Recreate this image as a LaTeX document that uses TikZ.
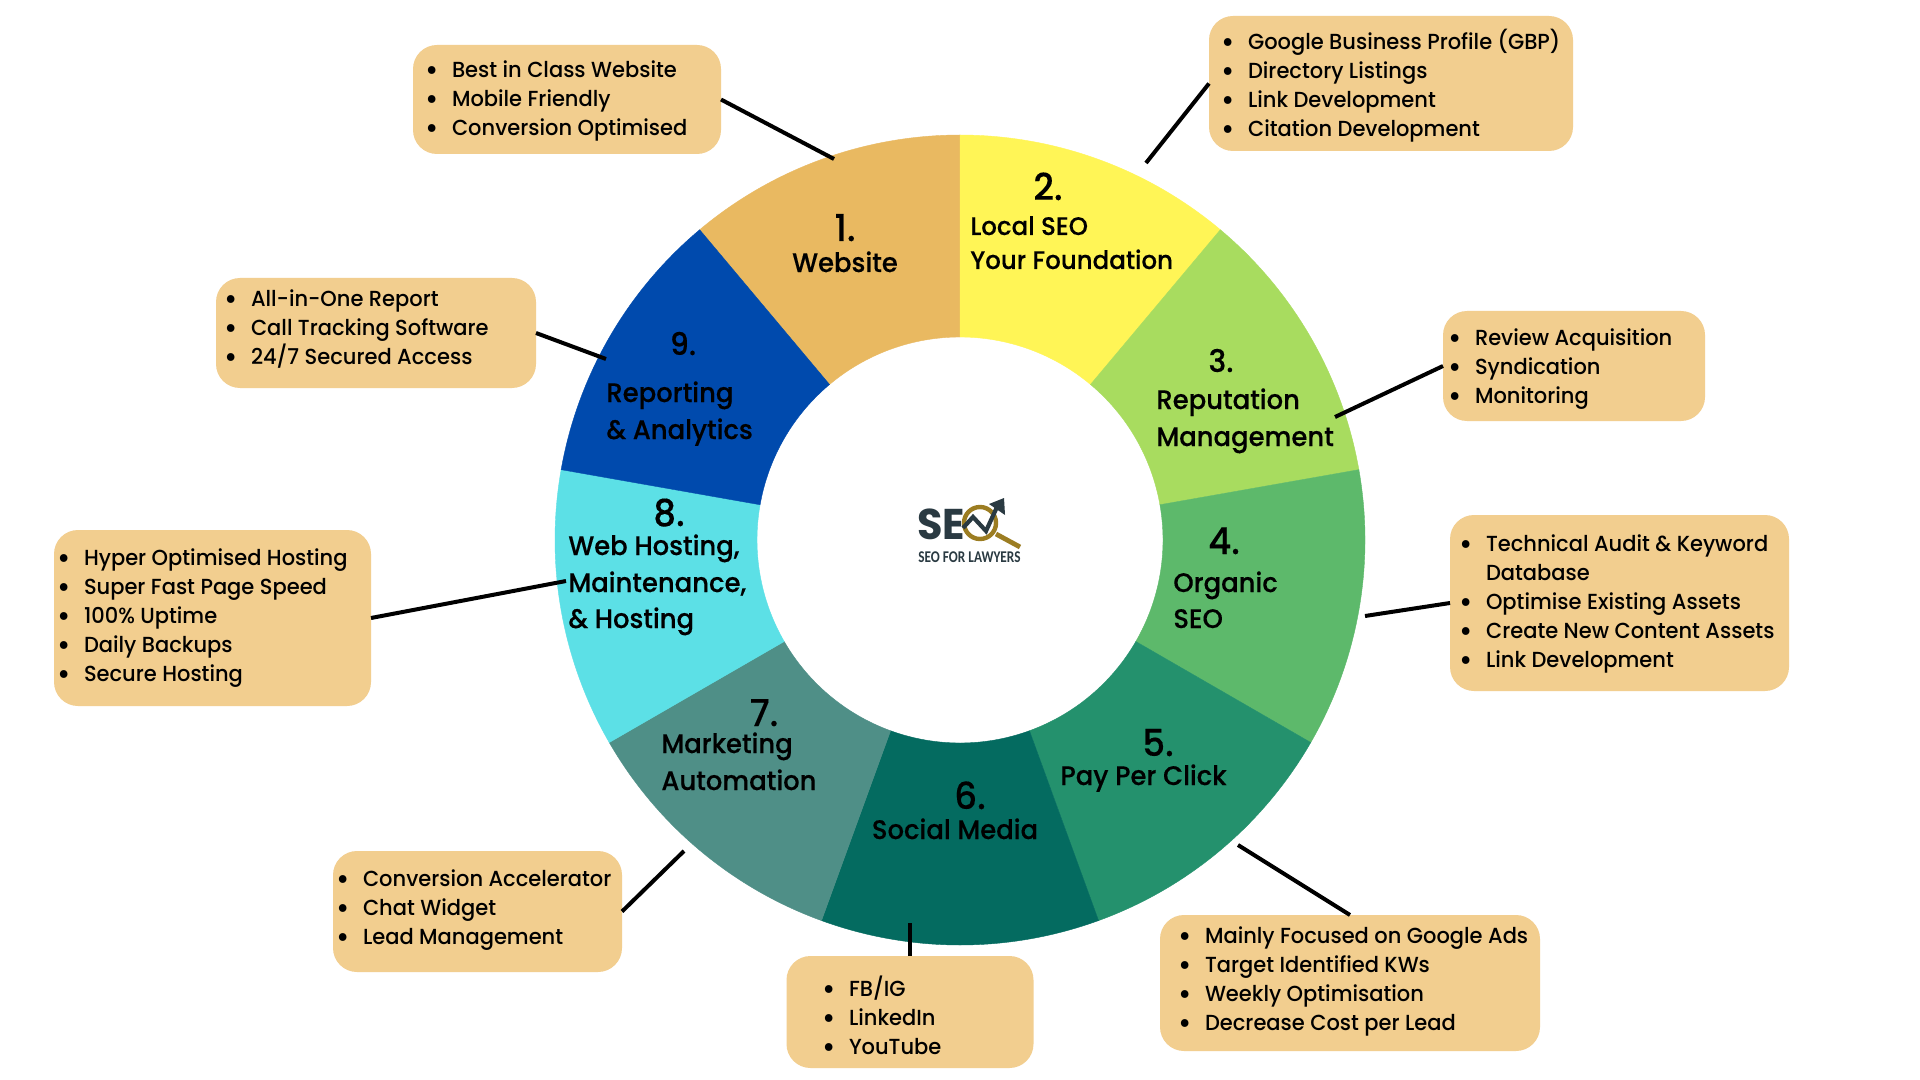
\documentclass[tikz,border=0pt]{standalone}
\usepackage{fontspec}
\setmainfont{Poppins}[UprightFont={Poppins Medium},BoldFont={Poppins Bold},FakeStretch=0.963]
\newfontfamily\ringfont{Poppins Medium}[FakeStretch=0.965,FakeBold=0.3]
\newfontfamily\logofont{Carlito}[FakeStretch=0.81]
\definecolor{cA}{HTML}{E9B961}
\definecolor{cB}{HTML}{FFF556}
\definecolor{cC}{HTML}{A8DC5F}
\definecolor{cD}{HTML}{5DB96B}
\definecolor{cE}{HTML}{24916D}
\definecolor{cF}{HTML}{046B60}
\definecolor{cG}{HTML}{4F8F87}
\definecolor{cH}{HTML}{5CE0E6}
\definecolor{cI}{HTML}{004AAD}
\definecolor{boxc}{HTML}{F2CE8F}
\definecolor{logodark}{HTML}{2A3A42}
\definecolor{logogold}{HTML}{9C7D22}
\newcommand{\rw}{\vphantom{(g}}
\newcommand{\bl}{\rw\llap{\raisebox{-1.6pt}{\fontsize{15}{15}\selectfont\textbullet}\hspace{6.5pt}}}
\tikzset{
  box/.style={fill=boxc,rounded corners=12pt,inner sep=0pt,outer sep=0pt},
  list/.style={anchor=west,inner sep=0pt,outer sep=0pt,align=left,text=black,font=\fontsize{10.9}{14.5}\selectfont},
  link/.style={draw=black,line width=2pt},
  num/.style={inner sep=0pt,text=black,text height=14pt,text depth=0pt,font=\ringfont\fontsize{18.5}{18.5}\selectfont},
  smallnum/.style={num,text height=12pt,font=\ringfont\fontsize{15.5}{15.5}\selectfont},
  ringlabel/.style={inner sep=0pt,anchor=west,text=black,text height=10pt,text depth=0pt,font=\ringfont\fontsize{13.4}{13.4}\selectfont},
  ringmid/.style={ringlabel,anchor=center},
  ringsmall/.style={ringlabel,font=\ringfont\fontsize{12.7}{12.7}\selectfont},
}
\begin{document}
\begin{tikzpicture}[x=0.5pt,y=-0.5pt]
\useasboundingbox (0,0) rectangle (1920,1080);
\fill[white] (0,0) rectangle (1920,1080);
% ring
\begin{scope}[shift={(960,540)},yscale=-1]
\foreach \s/\e/\c in {90/130/cA,50/90/cB,10/50/cC,-30/10/cD,-70/-30/cE,-110/-70/cF,-150/-110/cG,170/210/cH,130/170/cI}{
  \fill[\c,draw=\c,line width=0.2pt] (\s:203) -- (\s:405) arc[start angle=\s,end angle=\e,radius=405] -- (\e:203) arc[start angle=\e,end angle=\s,radius=203] -- cycle;
}
\end{scope}
% boxes
\node[box,minimum width=154pt,minimum height=54.5pt] (b1) at (567,99.5) {};
\node[box,minimum width=182pt,minimum height=67.5pt] (b2) at (1391,83.5) {};
\node[box,minimum width=131pt,minimum height=55pt] (b3) at (1574,366) {};
\node[box,minimum width=169.5pt,minimum height=88pt] (b4) at (1619.5,603) {};
\node[box,minimum width=190pt,minimum height=68pt] (b5) at (1350,983) {};
\node[box,minimum width=123.5pt,minimum height=56pt] (b6) at (910,1012) {};
\node[box,minimum width=144.5pt,minimum height=60.5pt] (b7) at (477.5,911.5) {};
\node[box,minimum width=158.5pt,minimum height=88pt] (b8) at (212.5,618) {};
\node[box,minimum width=160pt,minimum height=55pt] (b9) at (376,333) {};
% ring ends of connectors
\coordinate (r1) at (834,159);
\coordinate (r2) at (1146,163);
\coordinate (r3) at (1335,417);
\coordinate (r4) at (1365,616);
\coordinate (r5) at (1238,845);
\coordinate (r6) at (910,923);
\coordinate (r7) at (684,851);
\coordinate (r8) at (566,581);
\coordinate (r9) at (606,359);
\draw[link] (b1.east) -- (r1);
\draw[link] (b2.west) -- (r2);
\draw[link] (b3.west) -- (r3);
\draw[link] (b4.west) -- (r4);
\draw[link] (b5.north) -- (r5);
\draw[link] (b6.north) -- (r6);
\draw[link] (b7.east) -- (r7);
\draw[link] (b8.east) -- (r8);
\draw[link] (b9.east) -- (r9);
% box texts
\node[list] (t1) at (452,99) {\bl Best in Class Website\\\bl Mobile Friendly\\\bl Conversion Optimised};
\node[list] (t2) at (1248,85.5) {\bl Google Business Profile (GBP)\\\bl Directory Listings\\\bl Link Development\\\bl Citation Development};
\node[list] (t3) at (1475,367) {\bl Review Acquisition\\\bl Syndication\\\bl Monitoring};
\node[list] (t4) at (1486,602) {\bl Technical Audit \& Keyword\\\rw Database\\\bl Optimise Existing Assets\\\bl Create New Content Assets\\\bl Link Development};
\node[list] (t5) at (1205,979.5) {\bl Mainly Focused on Google Ads\\\bl Target Identified KWs\\\bl Weekly Optimisation\\\bl Decrease Cost per Lead};
\node[list] (t6) at (849,1018) {\bl FB/IG\\\bl LinkedIn\\\bl YouTube};
\node[list] (t7) at (363,908) {\bl Conversion Accelerator\\\bl Chat Widget\\\bl Lead Management};
\node[list] (t8) at (84,616) {\bl Hyper Optimised Hosting\\\bl Super Fast Page Speed\\\bl 100\% Uptime\\\bl Daily Backups\\\bl Secure Hosting};
\node[list] (t9) at (251,328) {\bl All-in-One Report\\\bl Call Tracking Software\\\bl 24/7 Secured Access};
% ring labels
\node[num] (n1) at (845,227) {1.};
\node[ringmid] (l1) at (845,262) {Website};
\node[num] (n2) at (1048,186) {2.};
\node[ringsmall] (l2a) at (970,225) {Local SEO};
\node[ringsmall] (l2b) at (970,259) {Your Foundation};
\node[smallnum] (n3) at (1221,360) {3.};
\node[ringlabel] (l3a) at (1156,399) {Reputation};
\node[ringlabel] (l3b) at (1156,436) {Management};
\node[num] (n4) at (1224,540) {4.};
\node[ringlabel] (l4a) at (1173,582) {Organic};
\node[ringlabel] (l4b) at (1173,618) {SEO};
\node[num] (n5) at (1158,742) {5.};
\node[ringlabel] (l5) at (1060,775) {Pay Per Click};
\node[num] (n6) at (970,795) {6.};
\node[ringmid] (l6) at (955,829) {Social Media};
\node[num] (n7) at (764,712) {7.};
\node[ringlabel] (l7a) at (661,743) {Marketing};
\node[ringlabel] (l7b) at (661,780) {Automation};
\node[num] (n8) at (669,512) {8.};
\node[ringlabel] (l8a) at (568,545) {Web Hosting,};
\node[ringlabel] (l8b) at (568,582) {Maintenance,};
\node[ringlabel] (l8c) at (568,618) {\& Hosting};
\node[smallnum] (n9) at (683,343) {9.};
\node[ringlabel] (l9a) at (606,392) {Reporting};
\node[ringlabel] (l9b) at (606,429) {\& Analytics};
% logo
\node[inner sep=0pt,anchor=west,text=logodark,text height=15pt,text depth=0pt,font=\fontsize{21.5}{21.5}\selectfont\bfseries] (se) at (917,524) {SE};
\draw[logogold,line width=2.2pt] (980,523) circle (16);
\draw[logogold,line width=2.4pt] (996,534) -- (1020,547);
\draw[logodark,line width=2.1pt,line join=miter] (963,528) -- (973,517) -- (986,531) -- (997,507);
\fill[logodark] (1004,498) -- (989,504) -- (1005,515) -- cycle;
\node[inner sep=0pt,anchor=west,text=logodark,text height=5.6pt,text depth=0pt,font=\logofont\fontsize{8.2}{8.2}\selectfont\bfseries] (seo) at (918,557) {SEO FOR LAWYERS};
\end{tikzpicture}
\end{document}
